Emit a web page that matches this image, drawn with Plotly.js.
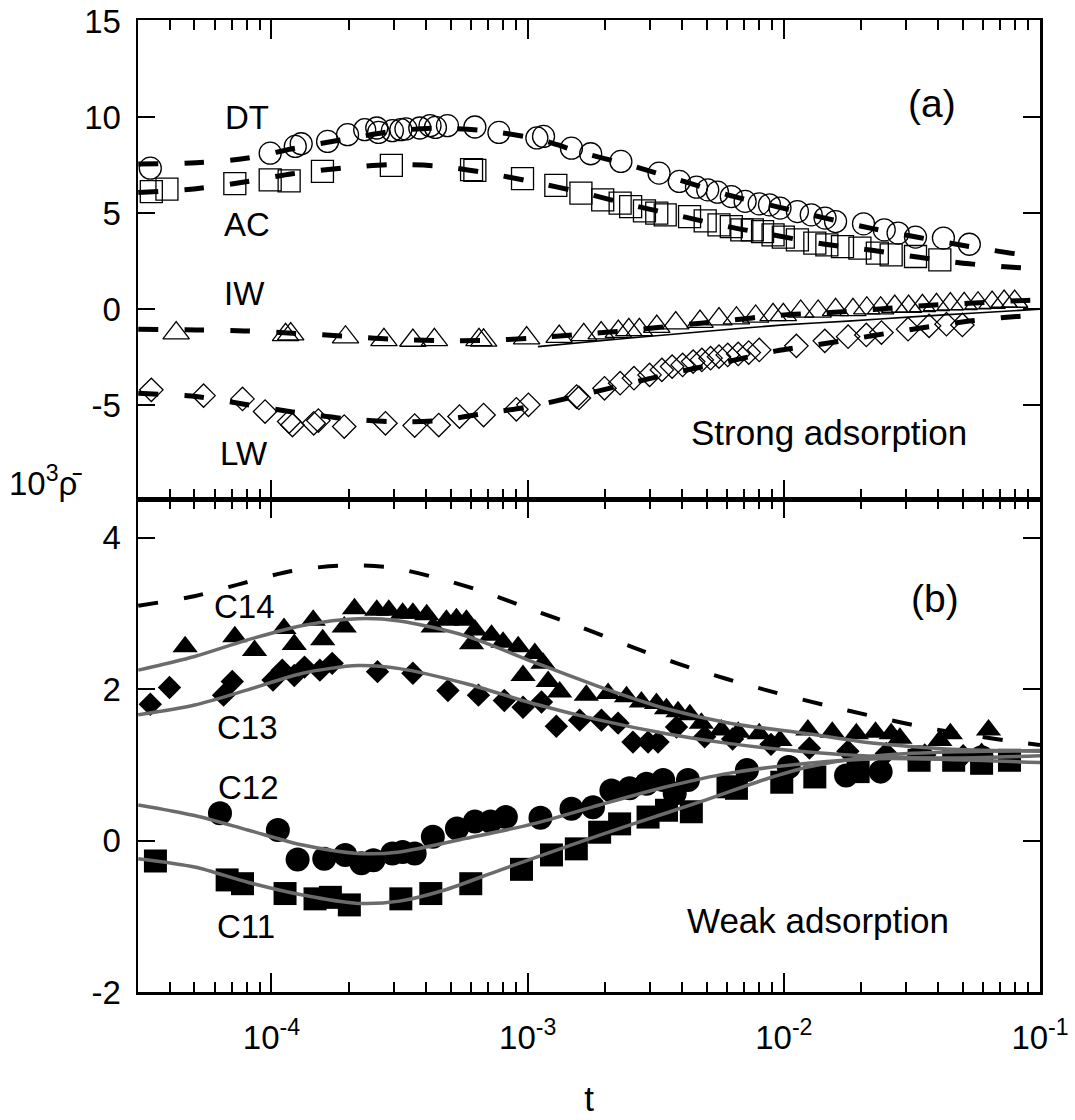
<!DOCTYPE html>
<html><head><meta charset="utf-8">
<script src="https://cdn.plot.ly/plotly-3.0.1.min.js"></script>
<style>body{margin:0;background:#fff}#chart{width:1075px;height:1120px}</style>
</head><body><div id="chart"></div>
<script>
// ---------- Panel (a): strong adsorption (log10 t, 10^3 rho) ----------
const dtLogT = [-4.473,-4.005,-3.907,-3.884,-3.781,-3.703,-3.636,-3.589,-3.582,-3.528,-3.495,-3.475,-3.421,-3.381,-3.360,-3.313,-3.206,-3.112,-2.964,-2.938,-2.829,-2.754,-2.636,-2.487,-2.408,-2.341,-2.297,-2.259,-2.205,-2.151,-2.096,-2.056,-2.015,-1.947,-1.893,-1.839,-1.798,-1.689,-1.608,-1.554,-1.486,-1.377,-1.276];
const dtVal  = [7.34,8.12,8.47,8.61,8.73,9.08,9.34,9.43,9.20,9.29,9.34,9.38,9.43,9.55,9.46,9.55,9.48,9.20,8.91,8.99,8.38,8.09,7.69,7.08,6.65,6.35,6.21,6.09,5.86,5.61,5.48,5.43,5.26,5.08,4.91,4.74,4.56,4.44,4.13,3.96,3.75,3.70,3.38];
const dtFitLogT = [-4.52,-4.294,-4.099,-3.918,-3.723,-3.508,-3.354,-3.165,-2.96,-2.788,-2.598,-2.408,-2.219,-2.029,-1.839,-1.649,-1.472,-1.276,-1.093,-1.0];
const dtFitVal  = [7.55,7.62,7.85,8.35,8.82,9.29,9.42,9.28,8.85,8.15,7.48,6.73,5.95,5.34,4.74,4.18,3.73,3.26,2.88,2.75];

const acLogT = [-4.469,-4.408,-4.143,-4.005,-3.931,-3.801,-3.532,-3.219,-3.206,-3.020,-2.890,-2.792,-2.707,-2.639,-2.598,-2.544,-2.496,-2.463,-2.368,-2.307,-2.253,-2.205,-2.164,-2.123,-2.083,-2.042,-2.002,-1.947,-1.879,-1.832,-1.771,-1.703,-1.635,-1.581,-1.486,-1.391];
const acVal  = [6.12,6.25,6.53,6.73,6.68,7.17,7.48,7.26,7.22,6.79,6.44,6.04,5.69,5.52,5.34,5.12,5.00,4.91,4.82,4.60,4.39,4.30,4.13,4.13,4.04,3.87,3.75,3.61,3.44,3.35,3.26,3.18,2.92,2.83,2.74,2.57];
const acFitLogT = [-4.52,-4.294,-4.106,-3.918,-3.723,-3.542,-3.354,-3.165,-2.99,-2.788,-2.598,-2.408,-2.219,-2.029,-1.839,-1.649,-1.472,-1.276,-1.093,-1.0];
const acFitVal  = [6.07,6.27,6.62,7.05,7.34,7.52,7.45,7.10,6.65,6.07,5.43,4.86,4.30,3.83,3.38,3.05,2.70,2.36,2.17,2.10];

const iwLogT = [-4.372,-3.945,-3.925,-3.711,-3.561,-3.448,-3.364,-3.190,-3.172,-3.004,-2.877,-2.781,-2.713,-2.646,-2.605,-2.564,-2.496,-2.422,-2.327,-2.253,-2.185,-2.110,-2.042,-2.002,-1.934,-1.866,-1.798,-1.730,-1.676,-1.622,-1.567,-1.513,-1.459,-1.404,-1.350,-1.296,-1.242,-1.187,-1.140,-1.099];
const iwVal  = [-1.25,-1.34,-1.30,-1.46,-1.60,-1.63,-1.60,-1.60,-1.62,-1.51,-1.43,-1.34,-1.25,-1.17,-1.08,-1.08,-0.91,-0.73,-0.65,-0.52,-0.47,-0.38,-0.30,-0.30,-0.12,-0.12,-0.04,-0.04,0.05,0.05,0.14,0.14,0.17,0.22,0.26,0.28,0.31,0.34,0.40,0.40];
const iwFitLogT = [-4.52,-4.294,-4.106,-3.918,-3.727,-3.542,-3.354,-3.165,-2.99,-2.788,-2.598,-2.408,-2.219,-2.029,-1.839,-1.649,-1.472,-1.276,-1.093,-1.0];
const iwFitVal  = [-1.04,-1.08,-1.13,-1.25,-1.39,-1.55,-1.63,-1.63,-1.51,-1.30,-1.10,-0.84,-0.59,-0.33,-0.19,-0.02,0.17,0.31,0.44,0.48];
const iwThinLogT = [-2.96,-2.6,-2.3,-2.0,-1.75,-1.5,-1.25,-1.0];
const iwThinVal  = [-1.95,-1.5,-1.15,-0.82,-0.62,-0.40,-0.20,0.0];

const lwLogT = [-4.469,-4.265,-4.113,-4.025,-3.931,-3.918,-3.835,-3.817,-3.716,-3.555,-3.441,-3.347,-3.266,-3.172,-3.044,-2.997,-2.809,-2.800,-2.700,-2.639,-2.585,-2.524,-2.476,-2.436,-2.395,-2.354,-2.320,-2.286,-2.253,-2.219,-2.178,-2.137,-2.096,-1.951,-1.840,-1.749,-1.678,-1.619,-1.515,-1.433,-1.365,-1.303];
const lwVal  = [-4.20,-4.50,-4.67,-5.33,-5.85,-6.03,-5.94,-5.80,-6.11,-5.94,-6.06,-6.03,-5.59,-5.51,-5.21,-4.98,-4.55,-4.62,-4.12,-3.85,-3.59,-3.42,-3.16,-2.99,-2.90,-2.73,-2.64,-2.55,-2.47,-2.38,-2.33,-2.26,-2.12,-1.91,-1.65,-1.43,-1.34,-1.22,-1.04,-0.87,-0.78,-0.82];
const lwFitLogT = [-4.52,-4.294,-4.106,-3.918,-3.723,-3.542,-3.354,-3.165,-2.99,-2.788,-2.598,-2.408,-2.219,-2.029,-1.839,-1.649,-1.472,-1.276,-1.093,-1.0];
const lwFitVal  = [-4.38,-4.55,-4.95,-5.35,-5.68,-5.85,-5.80,-5.42,-5.07,-4.46,-3.85,-3.25,-2.73,-2.17,-1.79,-1.37,-0.99,-0.62,-0.38,-0.30];

// ---------- Panel (b): weak adsorption ----------
const c14LogT = [-4.337,-4.143,-4.066,-3.951,-3.911,-3.837,-3.800,-3.716,-3.676,-3.589,-3.542,-3.488,-3.448,-3.394,-3.369,-3.317,-3.278,-3.239,-3.219,-3.206,-3.141,-3.096,-3.037,-3.018,-2.972,-2.940,-2.920,-2.875,-2.771,-2.686,-2.614,-2.556,-2.497,-2.458,-2.413,-2.367,-2.322,-2.244,-2.178,-2.096,-2.015,-1.906,-1.811,-1.717,-1.642,-1.581,-1.547,-1.391,-1.350,-1.228,-1.201];
const c14Val  = [2.56,2.69,2.51,2.80,2.59,2.91,2.65,2.82,3.06,3.04,3.04,3.00,3.00,2.98,2.82,2.91,2.93,2.91,2.60,2.78,2.71,2.62,2.56,2.18,2.47,2.34,2.10,1.96,1.92,1.94,1.90,1.83,1.81,1.74,1.70,1.66,1.55,1.46,1.43,1.41,1.32,1.46,1.43,1.41,1.43,1.41,1.35,1.32,1.41,1.15,1.46];
const c13LogT = [-4.473,-4.398,-4.187,-4.153,-3.994,-3.958,-3.911,-3.871,-3.811,-3.763,-3.586,-3.448,-3.311,-3.192,-3.091,-3.018,-2.946,-2.888,-2.797,-2.712,-2.647,-2.589,-2.530,-2.491,-2.419,-2.309,-2.20,-2.05,-1.90,-1.75,-1.60,-1.45,-1.30];
const c13Val  = [1.80,2.02,1.92,2.10,2.12,2.25,2.18,2.29,2.25,2.34,2.23,2.21,1.98,1.92,1.85,1.76,1.83,1.51,1.59,1.59,1.55,1.30,1.30,1.30,1.50,1.37,1.34,1.27,1.22,1.18,1.15,1.13,1.12];
const c12LogT = [-4.201,-3.975,-3.898,-3.794,-3.712,-3.649,-3.602,-3.528,-3.488,-3.441,-3.370,-3.276,-3.206,-3.145,-3.085,-2.950,-2.829,-2.745,-2.673,-2.602,-2.536,-2.471,-2.426,-2.374,-2.144,-1.981,-1.757,-1.622,-1.472,-1.228];
const c12Val  = [0.36,0.14,-0.25,-0.24,-0.19,-0.30,-0.26,-0.17,-0.15,-0.17,0.05,0.16,0.25,0.25,0.31,0.30,0.42,0.44,0.66,0.69,0.75,0.80,0.62,0.80,0.93,0.97,0.86,0.91,1.10,1.10];
const c11LogT = [-4.453,-4.173,-4.113,-3.947,-3.830,-3.770,-3.696,-3.495,-3.378,-3.222,-3.024,-2.907,-2.810,-2.719,-2.641,-2.530,-2.458,-2.361,-2.218,-2.185,-2.008,-1.879,-1.710,-1.472,-1.337,-1.228,-1.119];
const c11Val  = [-0.27,-0.52,-0.57,-0.70,-0.77,-0.75,-0.85,-0.77,-0.70,-0.57,-0.38,-0.19,-0.11,0.11,0.22,0.31,0.40,0.38,0.71,0.69,0.77,0.84,0.91,1.06,1.06,1.02,1.06];

const fitLogT = [-4.52,-4.30,-4.093,-3.878,-3.663,-3.50,-3.239,-2.979,-2.719,-2.458,-2.211,-1.906,-1.635,-1.364,-1.0];
const c14Fit = [2.25,2.43,2.65,2.84,2.93,2.90,2.70,2.36,2.03,1.74,1.55,1.41,1.28,1.21,1.18];
const c13Fit = [1.66,1.79,1.99,2.21,2.31,2.27,2.07,1.81,1.59,1.41,1.28,1.17,1.11,1.09,1.12];
const c12Fit = [0.47,0.33,0.14,-0.06,-0.17,-0.15,0.03,0.22,0.47,0.71,0.89,1.02,1.08,1.07,1.03];
const c11FitLogT = [-4.52,-4.30,-4.093,-3.878,-3.663,-3.50,-3.330,-3.108,-2.848,-2.588,-2.328,-2.08,-1.906,-1.635,-1.364,-1.0];
const c11Fit = [-0.24,-0.35,-0.55,-0.72,-0.83,-0.80,-0.66,-0.39,-0.08,0.22,0.51,0.80,0.97,1.12,1.17,1.19];
const bDashLogT = [-4.52,-4.297,-4.110,-3.921,-3.733,-3.545,-3.356,-3.168,-2.984,-2.786,-2.596,-2.408,-2.219,-2.029,-1.841,-1.651,-1.459,-1.269,-1.090,-1.0];
const bDashVal  = [3.10,3.23,3.40,3.56,3.63,3.61,3.47,3.28,3.05,2.81,2.56,2.33,2.13,1.95,1.79,1.64,1.50,1.39,1.30,1.26];

// tick labels
const xTickVals = [1e-4,1e-3,1e-2,1e-1];
const xTickText = ['10<sup>-4</sup>','10<sup>-3</sup>','10<sup>-2</sup>','10<sup>-1</sup>'];
const yaTicks = [-5,0,5,10,15];
const yaText = ['-5','0','5','10','15'];
const ybTicks = [-2,0,2,4];
const ybText = ['-2','0','2','4'];

const T = a => a.map(v => Math.pow(10, v));
const minorVals = [];
for (let e = -5; e <= -2; e++) for (let d = 2; d <= 9; d++) { const v = d*Math.pow(10,e); if (v > 3.05e-5) minorVals.push(v); }

const FONT = 'Liberation Sans, Arial, Helvetica, sans-serif';
const DASH = '20px,26px';
const GRAY = '#6b6b6b';

function mk(x, y, sym, size, ax, filled) {
  return {x: T(x), y: y, type:'scatter', mode:'markers', xaxis: ax[0], yaxis: ax[1], hoverinfo:'skip',
    marker: filled ? {symbol: sym, size: size, color:'#000', line:{width:0}}
                   : {symbol: sym + '-open', size: size, color:'#000', line:{width:1.3, color:'#000'}}};
}
function ln(x, y, ax, color, width, dash) {
  return {x: T(x), y: y, type:'scatter', mode:'lines', xaxis: ax[0], yaxis: ax[1], hoverinfo:'skip',
    line:{color: color, width: width, dash: dash || 'solid', shape:'spline', smoothing:0.8}};
}
const A = ['x2','y2'], B = ['x','y'];
const data = [
  mk(dtLogT, dtVal, 'circle', 22, A, false),
  mk(acLogT, acVal, 'square', 22, A, false),
  mk(iwLogT, iwVal, 'triangle-up', 23, A, false),
  mk(lwLogT, lwVal, 'diamond', 18, A, false),
  ln(iwThinLogT, iwThinVal, A, '#000', 1.6),
  ln(dtFitLogT, dtFitVal, A, '#000', 5, DASH),
  ln(acFitLogT, acFitVal, A, '#000', 5, DASH),
  ln(iwFitLogT, iwFitVal, A, '#000', 5, DASH),
  ln(lwFitLogT, lwFitVal, A, '#000', 5, DASH),
  mk(c14LogT, c14Val, 'triangle-up', 22, B, true),
  mk(c13LogT, c13Val, 'diamond', 18, B, true),
  mk(c12LogT, c12Val, 'circle', 24, B, true),
  mk(c11LogT, c11Val, 'square', 23, B, true),
  ln(bDashLogT, bDashVal, B, '#000', 4, DASH),
  ln(fitLogT, c14Fit, B, GRAY, 3.5),
  ln(fitLogT, c13Fit, B, GRAY, 3.5),
  ln(fitLogT, c12Fit, B, GRAY, 3.5),
  ln(c11FitLogT, c11Fit, B, GRAY, 3.5)
];

const xCommon = {type:'log', range:[-4.521,-1], tickmode:'array', tickvals:xTickVals, ticktext:xTickText,
  ticks:'inside', ticklen:19, tickwidth:2, tickcolor:'#000', showline:true, linewidth:2.5, linecolor:'#000',
  mirror:'allticks', showgrid:false, zeroline:false,
  minor:{tickmode:'array', tickvals:minorVals, ticks:'inside', ticklen:10, tickwidth:2, tickcolor:'#000', showgrid:false},
  tickfont:{family:FONT, size:33, color:'#000'}};
const yCommon = {ticks:'inside', ticklen:17, tickwidth:2, tickcolor:'#000', showline:true, linewidth:2.5, linecolor:'#000',
  mirror:'allticks', showgrid:false, zeroline:false, tickmode:'array', tickfont:{family:FONT, size:33, color:'#000'}, ticklabelstandoff:8};

function ann(text, x, y, size) { return {text:text, x:x, y:y, xref:'paper', yref:'paper', showarrow:false, xanchor:'center', yanchor:'middle', font:{family:FONT, size:size || 33, color:'#000'}}; }

const layout = {
  width:1075, height:1120, margin:{l:138, r:35, t:20, b:128},
  paper_bgcolor:'#fff', plot_bgcolor:'#fff', showlegend:false,
  font:{family:FONT, color:'#000'},
  xaxis: Object.assign({}, xCommon, {anchor:'y', domain:[0,1], ticklabelstandoff:15,
    title:{text:'t', font:{family:FONT, size:35, color:'#000'}, standoff:32}}),
  xaxis2: Object.assign({}, xCommon, {anchor:'y2', domain:[0,1], matches:'x', showticklabels:false}),
  yaxis: Object.assign({}, yCommon, {domain:[0,0.5072], range:[-2,4.51], tickvals:ybTicks, ticktext:ybText}),
  yaxis2: Object.assign({}, yCommon, {domain:[0.5072,1], range:[-9.88,15.05], tickvals:yaTicks, ticktext:yaText}),
  annotations: [
    ann('DT', 0.1208, 0.9002), ann('AC', 0.1208, 0.7891), ann('IW', 0.1186, 0.7191), ann('LW', 0.1175, 0.5545),
    ann('(a)', 0.8803, 0.9136, 39), ann('Strong adsorption', 0.7661, 0.5760, 35),
    ann('(b)', 0.8836, 0.4053, 39), ann('Weak adsorption', 0.7539, 0.0740, 35),
    ann('C14', 0.1186, 0.3961), ann('C13', 0.1219, 0.2726), ann('C12', 0.1230, 0.2109), ann('C11', 0.1197, 0.0679),
    ann('10<sup>3</sup>ρ\u0304', -0.103, 0.5257)
  ]
};
Plotly.newPlot('chart', data, layout, {staticPlot:true, displayModeBar:false});
</script></body></html>
